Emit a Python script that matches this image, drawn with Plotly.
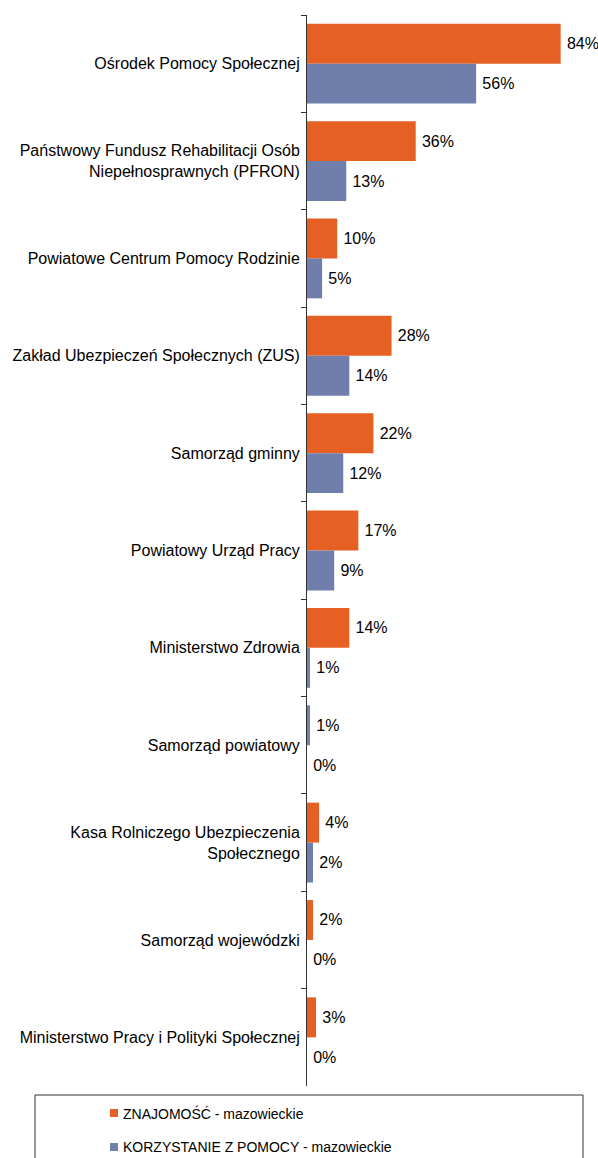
import plotly.graph_objects as go

categories = [
    "Ośrodek Pomocy Społecznej",
    "Państwowy Fundusz Rehabilitacji Osób<br>Niepełnosprawnych (PFRON)",
    "Powiatowe Centrum Pomocy Rodzinie",
    "Zakład Ubezpieczeń Społecznych (ZUS)",
    "Samorząd gminny",
    "Powiatowy Urząd Pracy",
    "Ministerstwo Zdrowia",
    "Samorząd powiatowy",
    "Kasa Rolniczego Ubezpieczenia<br>Społecznego",
    "Samorząd wojewódzki",
    "Ministerstwo Pracy i Polityki Społecznej",
]
znajomosc = [84, 36, 10, 28, 22, 17, 14, 1, 4, 2, 3]
korzystanie = [56, 13, 5, 14, 12, 9, 1, 0, 2, 0, 0]
series_names = ["ZNAJOMOŚĆ - mazowieckie", "KORZYSTANIE Z POMOCY - mazowieckie"]

ORANGE = "#E66024"
BLUE = "#6F7EAB"
FONT = "Liberation Sans, Arial, Helvetica, sans-serif"

# In the original, the single "Samorząd powiatowy" point of the first series is drawn in blue
orange_colors = [BLUE if c.startswith("Samorząd powiatowy") else ORANGE for c in categories]

fig = go.Figure()
fig.add_trace(go.Bar(
    y=categories, x=znajomosc, orientation="h", name=series_names[0],
    marker=dict(color=orange_colors, line=dict(width=0)),
    text=[f"\u2009{v}%" for v in znajomosc], textposition="outside",
    textfont=dict(size=16, color="black", family=FONT),
    cliponaxis=False, showlegend=False,
))
fig.add_trace(go.Bar(
    y=categories, x=korzystanie, orientation="h", name=series_names[1],
    marker=dict(color=BLUE, line=dict(width=0)),
    text=[f"\u2009{v}%" for v in korzystanie], textposition="outside",
    textfont=dict(size=16, color="black", family=FONT),
    cliponaxis=False, showlegend=False,
))

W, H = 598, 1158
ml, mt, mb, mr = 307, 15, 72, 0
pw = W - ml - mr
ph = H - mt - mb

def px_x(x):
    return (x - ml) / pw

def px_y(y):
    return (H - mb - y) / ph

shapes = [dict(
    type="rect", xref="paper", yref="paper",
    x0=px_x(35), x1=px_x(583), y0=px_y(1175), y1=px_y(1095),
    line=dict(color="#333333", width=1), fillcolor="rgba(0,0,0,0)",
)]
annotations = []
legend_colors = [ORANGE, BLUE]
for i, (name, col) in enumerate(zip(series_names, legend_colors)):
    yc = 1113 + 34 * i
    shapes.append(dict(
        type="rect", xref="paper", yref="paper",
        x0=px_x(110), x1=px_x(118), y0=px_y(yc + 4), y1=px_y(yc - 4),
        line=dict(width=0), fillcolor=col,
    ))
    annotations.append(dict(
        xref="paper", yref="paper", x=px_x(121), y=px_y(yc),
        xanchor="left", yanchor="middle", text=name, showarrow=False,
        font=dict(size=14, family=FONT, color="black"),
    ))

fig.update_layout(
    width=W, height=H,
    margin=dict(l=ml, r=mr, t=mt, b=mb, autoexpand=False),
    paper_bgcolor="white", plot_bgcolor="white",
    font=dict(family=FONT, size=16, color="black"),
    barmode="group", bargap=0.18, bargroupgap=0,
    showlegend=False,
    xaxis=dict(range=[0, pw / 3.02], visible=False, fixedrange=True, automargin=False),
    yaxis=dict(
        autorange="reversed", showline=True, linecolor="#333333", linewidth=1,
        ticks="outside", ticklen=5, tickcolor="#333333", tickson="boundaries",
        showgrid=False, zeroline=False, automargin=False,
        tickfont=dict(size=16, family=FONT, color="black"),
        ticklabelstandoff=3,
    ),
    shapes=shapes,
    annotations=annotations,
)

fig.write_html(
    "out.html",
    config={"displayModeBar": False},
    post_script="document.body.style.margin='0';document.body.style.overflow='hidden';",
)
